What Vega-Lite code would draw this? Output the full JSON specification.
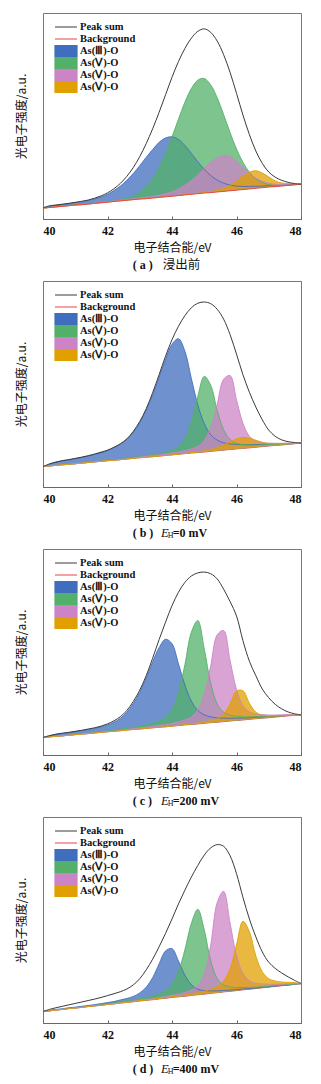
{
"padding": {"left": 14, "top": 12, "right": 5, "bottom": 5},
"background": "white",
"bounds": "flush",
"spacing": 62,
"resolve": {"scale": {"color": "independent"}, "legend": {"color": "independent"}},
"config": {
  "font": "Liberation Serif",
  "view": {"stroke": "#777", "strokeWidth": 1},
  "axis": {"grid": false, "domainColor": "#666", "tickColor": "#666", "labelFont": "Liberation Serif", "labelFontSize": 12, "labelFontWeight": "bold", "labelColor": "#111", "titleFont": "Noto Sans CJK SC", "titleFontSize": 12, "titleFontWeight": "normal", "titleColor": "#111"}
},
"datasets": {"xps": [
{"p":"a","x":40.0,"bg":5.3,"s":5.4,"c1":5.4,"c2":5.3,"c3":5.3,"c4":5.3},
{"p":"a","x":40.2,"bg":5.6,"s":6.4,"c1":6.2,"c2":5.6,"c3":5.6,"c4":5.6},
{"p":"a","x":40.4,"bg":5.9,"s":6.8,"c1":6.6,"c2":5.9,"c3":5.9,"c4":5.9},
{"p":"a","x":40.6,"bg":6.2,"s":7.2,"c1":7.0,"c2":6.2,"c3":6.2,"c4":6.2},
{"p":"a","x":40.8,"bg":6.5,"s":7.6,"c1":7.4,"c2":6.5,"c3":6.5,"c4":6.5},
{"p":"a","x":41.0,"bg":6.8,"s":8.1,"c1":7.9,"c2":6.8,"c3":6.8,"c4":6.8},
{"p":"a","x":41.2,"bg":7.0,"s":8.6,"c1":8.3,"c2":7.0,"c3":7.0,"c4":7.0},
{"p":"a","x":41.4,"bg":7.3,"s":9.2,"c1":8.9,"c2":7.3,"c3":7.3,"c4":7.3},
{"p":"a","x":41.6,"bg":7.6,"s":10.1,"c1":9.7,"c2":7.6,"c3":7.7,"c4":7.6},
{"p":"a","x":41.8,"bg":7.9,"s":11.2,"c1":10.7,"c2":7.9,"c3":8.1,"c4":7.9},
{"p":"a","x":42.0,"bg":8.2,"s":12.7,"c1":12.0,"c2":8.2,"c3":8.4,"c4":8.2},
{"p":"a","x":42.2,"bg":8.5,"s":14.7,"c1":13.8,"c2":8.7,"c3":8.7,"c4":8.5},
{"p":"a","x":42.4,"bg":8.8,"s":17.3,"c1":16.0,"c2":9.2,"c3":9.1,"c4":8.8},
{"p":"a","x":42.6,"bg":9.1,"s":20.7,"c1":18.8,"c2":10.0,"c3":9.4,"c4":9.1},
{"p":"a","x":42.8,"bg":9.4,"s":25.0,"c1":22.1,"c2":11.1,"c3":9.8,"c4":9.4},
{"p":"a","x":43.0,"bg":9.7,"s":30.3,"c1":25.9,"c2":12.9,"c3":10.2,"c4":9.7},
{"p":"a","x":43.2,"bg":9.9,"s":36.6,"c1":29.9,"c2":15.5,"c3":10.5,"c4":9.9},
{"p":"a","x":43.4,"bg":10.2,"s":43.8,"c1":33.7,"c2":19.5,"c3":11.0,"c4":10.2},
{"p":"a","x":43.6,"bg":10.5,"s":51.8,"c1":37.2,"c2":24.8,"c3":11.5,"c4":10.5},
{"p":"a","x":43.8,"bg":10.8,"s":60.3,"c1":39.3,"c2":31.7,"c3":12.3,"c4":10.8},
{"p":"a","x":44.0,"bg":11.1,"s":68.8,"c1":39.9,"c2":39.8,"c3":13.2,"c4":11.1},
{"p":"a","x":44.2,"bg":11.4,"s":76.4,"c1":38.6,"c2":48.4,"c3":14.6,"c4":11.4},
{"p":"a","x":44.4,"bg":11.7,"s":82.8,"c1":35.7,"c2":56.7,"c3":16.4,"c4":11.8},
{"p":"a","x":44.6,"bg":12.0,"s":87.8,"c1":31.8,"c2":63.3,"c3":18.7,"c4":12.2},
{"p":"a","x":44.8,"bg":12.3,"s":91.1,"c1":27.8,"c2":67.4,"c3":21.4,"c4":12.5},
{"p":"a","x":45.0,"bg":12.6,"s":92.3,"c1":24.1,"c2":68.2,"c3":24.5,"c4":12.9},
{"p":"a","x":45.2,"bg":12.8,"s":90.6,"c1":21.1,"c2":65.1,"c3":27.4,"c4":13.3},
{"p":"a","x":45.4,"bg":13.1,"s":86.4,"c1":18.9,"c2":58.9,"c3":29.7,"c4":13.9},
{"p":"a","x":45.6,"bg":13.4,"s":79.8,"c1":17.4,"c2":50.7,"c3":30.9,"c4":14.8},
{"p":"a","x":45.8,"bg":13.7,"s":71.2,"c1":16.5,"c2":42.0,"c3":30.3,"c4":16.3},
{"p":"a","x":46.0,"bg":14.0,"s":61.0,"c1":16.0,"c2":34.0,"c3":28.0,"c4":18.3},
{"p":"a","x":46.2,"bg":14.3,"s":50.5,"c1":15.8,"c2":27.5,"c3":25.0,"c4":20.7},
{"p":"a","x":46.4,"bg":14.6,"s":41.0,"c1":15.8,"c2":22.7,"c3":22.1,"c4":22.7},
{"p":"a","x":46.6,"bg":14.9,"s":33.0,"c1":15.9,"c2":19.5,"c3":19.8,"c4":23.4},
{"p":"a","x":46.8,"bg":15.2,"s":27.0,"c1":16.0,"c2":17.7,"c3":18.3,"c4":22.3},
{"p":"a","x":47.0,"bg":15.5,"s":22.8,"c1":16.2,"c2":16.7,"c3":17.4,"c4":20.4},
{"p":"a","x":47.2,"bg":15.7,"s":20.3,"c1":16.3,"c2":16.3,"c3":16.9,"c4":18.5},
{"p":"a","x":47.4,"bg":16.0,"s":18.8,"c1":16.5,"c2":16.2,"c3":16.8,"c4":17.5},
{"p":"a","x":47.6,"bg":16.3,"s":17.8,"c1":16.7,"c2":16.3,"c3":16.9,"c4":17.1},
{"p":"a","x":47.8,"bg":16.6,"s":17.2,"c1":16.8,"c2":16.6,"c3":17.0,"c4":17.0},
{"p":"a","x":48.0,"bg":16.9,"s":16.9,"c1":16.9,"c2":16.9,"c3":16.9,"c4":16.9},
{"p":"b","x":40.0,"bg":9.9,"s":9.9,"c1":9.9,"c2":9.9,"c3":9.9,"c4":9.9},
{"p":"b","x":40.2,"bg":10.2,"s":11.2,"c1":11.1,"c2":10.2,"c3":10.2,"c4":10.2},
{"p":"b","x":40.4,"bg":10.5,"s":12.1,"c1":12.0,"c2":10.5,"c3":10.5,"c4":10.5},
{"p":"b","x":40.6,"bg":10.8,"s":12.8,"c1":12.7,"c2":10.8,"c3":10.8,"c4":10.8},
{"p":"b","x":40.8,"bg":11.0,"s":13.3,"c1":13.1,"c2":11.0,"c3":11.0,"c4":11.0},
{"p":"b","x":41.0,"bg":11.3,"s":13.9,"c1":13.7,"c2":11.3,"c3":11.3,"c4":11.3},
{"p":"b","x":41.2,"bg":11.6,"s":14.5,"c1":14.3,"c2":11.6,"c3":11.6,"c4":11.6},
{"p":"b","x":41.4,"bg":11.9,"s":15.2,"c1":15.0,"c2":11.9,"c3":11.9,"c4":11.9},
{"p":"b","x":41.6,"bg":12.2,"s":16.0,"c1":15.8,"c2":12.2,"c3":12.2,"c4":12.2},
{"p":"b","x":41.8,"bg":12.5,"s":16.9,"c1":16.7,"c2":12.5,"c3":12.5,"c4":12.5},
{"p":"b","x":42.0,"bg":12.8,"s":17.9,"c1":17.7,"c2":12.8,"c3":12.8,"c4":12.8},
{"p":"b","x":42.2,"bg":13.0,"s":19.3,"c1":19.1,"c2":13.0,"c3":13.0,"c4":13.0},
{"p":"b","x":42.4,"bg":13.3,"s":21.0,"c1":20.8,"c2":13.3,"c3":13.3,"c4":13.3},
{"p":"b","x":42.6,"bg":13.6,"s":23.4,"c1":23.1,"c2":13.8,"c3":13.6,"c4":13.6},
{"p":"b","x":42.8,"bg":13.9,"s":27.0,"c1":26.7,"c2":14.3,"c3":14.1,"c4":13.9},
{"p":"b","x":43.0,"bg":14.2,"s":31.8,"c1":31.3,"c2":14.8,"c3":14.5,"c4":14.2},
{"p":"b","x":43.2,"bg":14.5,"s":38.0,"c1":37.3,"c2":15.3,"c3":14.9,"c4":14.5},
{"p":"b","x":43.4,"bg":14.7,"s":45.8,"c1":44.8,"c2":15.7,"c3":15.2,"c4":14.7},
{"p":"b","x":43.6,"bg":15.0,"s":54.5,"c1":53.3,"c2":16.3,"c3":15.6,"c4":15.0},
{"p":"b","x":43.8,"bg":15.3,"s":63.5,"c1":62.1,"c2":16.9,"c3":16.0,"c4":15.3},
{"p":"b","x":44.0,"bg":15.6,"s":71.5,"c1":69.3,"c2":17.9,"c3":16.5,"c4":15.6},
{"p":"b","x":44.2,"bg":15.9,"s":78.0,"c1":72.0,"c2":19.7,"c3":17.0,"c4":15.9},
{"p":"b","x":44.4,"bg":16.2,"s":83.2,"c1":65.9,"c2":23.7,"c3":17.6,"c4":16.3},
{"p":"b","x":44.6,"bg":16.5,"s":87.0,"c1":52.7,"c2":31.7,"c3":18.5,"c4":16.7},
{"p":"b","x":44.8,"bg":16.7,"s":89.2,"c1":39.9,"c2":44.0,"c3":19.7,"c4":17.0},
{"p":"b","x":45.0,"bg":17.0,"s":89.8,"c1":30.8,"c2":53.7,"c3":22.6,"c4":17.6},
{"p":"b","x":45.2,"bg":17.3,"s":89.0,"c1":25.4,"c2":49.4,"c3":28.9,"c4":18.2},
{"p":"b","x":45.4,"bg":17.6,"s":86.3,"c1":22.8,"c2":37.3,"c3":40.0,"c4":19.1},
{"p":"b","x":45.6,"bg":17.9,"s":81.5,"c1":21.5,"c2":27.8,"c3":52.3,"c4":20.3},
{"p":"b","x":45.8,"bg":18.2,"s":74.0,"c1":20.9,"c2":23.1,"c3":54.1,"c4":21.8},
{"p":"b","x":46.0,"bg":18.5,"s":64.5,"c1":20.7,"c2":21.2,"c3":42.4,"c4":23.3},
{"p":"b","x":46.2,"bg":18.7,"s":54.5,"c1":20.5,"c2":20.6,"c3":30.9,"c4":24.1},
{"p":"b","x":46.4,"bg":19.0,"s":46.0,"c1":20.5,"c2":20.3,"c3":24.6,"c4":23.7},
{"p":"b","x":46.6,"bg":19.3,"s":38.8,"c1":20.6,"c2":20.3,"c3":22.3,"c4":22.7},
{"p":"b","x":46.8,"bg":19.6,"s":32.6,"c1":20.7,"c2":20.4,"c3":21.5,"c4":21.7},
{"p":"b","x":47.0,"bg":19.9,"s":27.6,"c1":20.9,"c2":20.6,"c3":21.3,"c4":21.1},
{"p":"b","x":47.2,"bg":20.2,"s":24.6,"c1":21.0,"c2":20.7,"c3":21.2,"c4":20.9},
{"p":"b","x":47.4,"bg":20.4,"s":22.9,"c1":21.0,"c2":20.8,"c3":21.2,"c4":20.8},
{"p":"b","x":47.6,"bg":20.7,"s":22.0,"c1":21.1,"c2":21.0,"c3":21.3,"c4":21.0},
{"p":"b","x":47.8,"bg":21.0,"s":21.6,"c1":21.2,"c2":21.1,"c3":21.3,"c4":21.1},
{"p":"b","x":48.0,"bg":21.3,"s":21.3,"c1":21.3,"c2":21.3,"c3":21.3,"c4":21.3},
{"p":"c","x":40.0,"bg":8.5,"s":8.5,"c1":8.5,"c2":8.5,"c3":8.5,"c4":8.5},
{"p":"c","x":40.2,"bg":8.8,"s":9.4,"c1":9.3,"c2":8.8,"c3":8.8,"c4":8.8},
{"p":"c","x":40.4,"bg":9.1,"s":10.1,"c1":10.0,"c2":9.1,"c3":9.1,"c4":9.1},
{"p":"c","x":40.6,"bg":9.3,"s":10.6,"c1":10.4,"c2":9.3,"c3":9.3,"c4":9.3},
{"p":"c","x":40.8,"bg":9.6,"s":11.0,"c1":10.8,"c2":9.6,"c3":9.6,"c4":9.6},
{"p":"c","x":41.0,"bg":9.9,"s":11.5,"c1":11.3,"c2":9.9,"c3":9.9,"c4":9.9},
{"p":"c","x":41.2,"bg":10.2,"s":12.0,"c1":11.8,"c2":10.2,"c3":10.2,"c4":10.2},
{"p":"c","x":41.4,"bg":10.4,"s":12.6,"c1":12.3,"c2":10.4,"c3":10.4,"c4":10.4},
{"p":"c","x":41.6,"bg":10.7,"s":13.2,"c1":12.9,"c2":10.9,"c3":10.7,"c4":10.7},
{"p":"c","x":41.8,"bg":11.0,"s":14.0,"c1":13.6,"c2":11.3,"c3":11.0,"c4":11.0},
{"p":"c","x":42.0,"bg":11.3,"s":15.1,"c1":14.6,"c2":11.7,"c3":11.3,"c4":11.3},
{"p":"c","x":42.2,"bg":11.5,"s":16.6,"c1":15.9,"c2":12.0,"c3":11.5,"c4":11.5},
{"p":"c","x":42.4,"bg":11.8,"s":18.6,"c1":17.8,"c2":12.5,"c3":12.0,"c4":11.8},
{"p":"c","x":42.6,"bg":12.1,"s":21.6,"c1":20.7,"c2":13.0,"c3":12.4,"c4":12.1},
{"p":"c","x":42.8,"bg":12.4,"s":26.0,"c1":25.0,"c2":13.5,"c3":12.8,"c4":12.4},
{"p":"c","x":43.0,"bg":12.6,"s":31.5,"c1":30.4,"c2":13.9,"c3":13.1,"c4":12.6},
{"p":"c","x":43.2,"bg":12.9,"s":38.5,"c1":37.4,"c2":14.6,"c3":13.5,"c4":12.9},
{"p":"c","x":43.4,"bg":13.2,"s":47.0,"c1":45.2,"c2":15.4,"c3":13.9,"c4":13.2},
{"p":"c","x":43.6,"bg":13.5,"s":56.0,"c1":52.1,"c2":16.4,"c3":14.4,"c4":13.5},
{"p":"c","x":43.8,"bg":13.7,"s":64.5,"c1":56.2,"c2":18.2,"c3":14.8,"c4":13.7},
{"p":"c","x":44.0,"bg":14.0,"s":72.5,"c1":54.0,"c2":22.1,"c3":15.3,"c4":14.0},
{"p":"c","x":44.2,"bg":14.3,"s":79.0,"c1":44.3,"c2":30.1,"c3":16.1,"c4":14.4},
{"p":"c","x":44.4,"bg":14.6,"s":83.8,"c1":34.0,"c2":43.8,"c3":17.0,"c4":14.8},
{"p":"c","x":44.6,"bg":14.8,"s":86.9,"c1":26.2,"c2":59.6,"c3":18.5,"c4":15.1},
{"p":"c","x":44.8,"bg":15.1,"s":88.4,"c1":21.6,"c2":65.3,"c3":22.0,"c4":15.5},
{"p":"c","x":45.0,"bg":15.4,"s":88.8,"c1":19.5,"c2":51.5,"c3":29.7,"c4":16.0},
{"p":"c","x":45.2,"bg":15.7,"s":88.0,"c1":18.5,"c2":34.9,"c3":43.2,"c4":16.6},
{"p":"c","x":45.4,"bg":15.9,"s":85.5,"c1":18.0,"c2":24.8,"c3":58.3,"c4":17.5},
{"p":"c","x":45.6,"bg":16.2,"s":80.5,"c1":17.9,"c2":20.8,"c3":60.4,"c4":19.9},
{"p":"c","x":45.8,"bg":16.5,"s":74.5,"c1":17.8,"c2":19.3,"c3":45.9,"c4":24.8},
{"p":"c","x":46.0,"bg":16.8,"s":67.5,"c1":17.9,"c2":18.8,"c3":31.8,"c4":31.1},
{"p":"c","x":46.2,"bg":17.0,"s":55.5,"c1":17.9,"c2":18.5,"c3":23.9,"c4":31.2},
{"p":"c","x":46.4,"bg":17.3,"s":45.5,"c1":18.1,"c2":18.5,"c3":21.0,"c4":25.1},
{"p":"c","x":46.6,"bg":17.6,"s":38.5,"c1":18.3,"c2":18.6,"c3":19.9,"c4":20.8},
{"p":"c","x":46.8,"bg":17.9,"s":32.0,"c1":18.5,"c2":18.7,"c3":19.6,"c4":19.3},
{"p":"c","x":47.0,"bg":18.1,"s":27.8,"c1":18.6,"c2":18.8,"c3":19.4,"c4":18.9},
{"p":"c","x":47.2,"bg":18.4,"s":24.6,"c1":18.8,"c2":19.0,"c3":19.4,"c4":18.9},
{"p":"c","x":47.4,"bg":18.7,"s":22.4,"c1":19.0,"c2":19.1,"c3":19.5,"c4":19.1},
{"p":"c","x":47.6,"bg":19.0,"s":20.9,"c1":19.2,"c2":19.3,"c3":19.6,"c4":19.3},
{"p":"c","x":47.8,"bg":19.2,"s":20.0,"c1":19.3,"c2":19.3,"c3":19.5,"c4":19.3},
{"p":"c","x":48.0,"bg":19.5,"s":19.5,"c1":19.5,"c2":19.5,"c3":19.5,"c4":19.5},
{"p":"d","x":40.0,"bg":5.6,"s":5.6,"c1":5.6,"c2":5.6,"c3":5.6,"c4":5.6},
{"p":"d","x":40.2,"bg":5.9,"s":6.6,"c1":6.1,"c2":5.9,"c3":5.9,"c4":5.9},
{"p":"d","x":40.4,"bg":6.3,"s":7.4,"c1":6.6,"c2":6.3,"c3":6.3,"c4":6.3},
{"p":"d","x":40.6,"bg":6.6,"s":8.1,"c1":6.9,"c2":6.6,"c3":6.6,"c4":6.6},
{"p":"d","x":40.8,"bg":7.0,"s":8.8,"c1":7.4,"c2":7.0,"c3":7.0,"c4":7.0},
{"p":"d","x":41.0,"bg":7.3,"s":9.5,"c1":7.7,"c2":7.3,"c3":7.3,"c4":7.3},
{"p":"d","x":41.2,"bg":7.6,"s":10.2,"c1":8.1,"c2":7.6,"c3":7.6,"c4":7.6},
{"p":"d","x":41.4,"bg":8.0,"s":10.9,"c1":8.5,"c2":8.1,"c3":8.0,"c4":8.0},
{"p":"d","x":41.6,"bg":8.3,"s":11.6,"c1":8.9,"c2":8.5,"c3":8.3,"c4":8.3},
{"p":"d","x":41.8,"bg":8.6,"s":12.4,"c1":9.4,"c2":8.9,"c3":8.6,"c4":8.6},
{"p":"d","x":42.0,"bg":9.0,"s":13.3,"c1":9.9,"c2":9.4,"c3":9.0,"c4":9.0},
{"p":"d","x":42.2,"bg":9.3,"s":14.2,"c1":10.4,"c2":9.8,"c3":9.3,"c4":9.3},
{"p":"d","x":42.4,"bg":9.7,"s":15.2,"c1":11.2,"c2":10.4,"c3":9.8,"c4":9.7},
{"p":"d","x":42.6,"bg":10.0,"s":16.5,"c1":11.9,"c2":10.8,"c3":10.2,"c4":10.0},
{"p":"d","x":42.8,"bg":10.3,"s":18.5,"c1":12.9,"c2":11.2,"c3":10.6,"c4":10.4},
{"p":"d","x":43.0,"bg":10.7,"s":21.5,"c1":14.6,"c2":11.8,"c3":11.1,"c4":10.9},
{"p":"d","x":43.2,"bg":11.0,"s":25.8,"c1":17.4,"c2":12.5,"c3":11.4,"c4":11.2},
{"p":"d","x":43.4,"bg":11.3,"s":31.0,"c1":22.0,"c2":13.1,"c3":11.8,"c4":11.6},
{"p":"d","x":43.6,"bg":11.7,"s":37.0,"c1":28.7,"c2":14.1,"c3":12.3,"c4":12.0},
{"p":"d","x":43.8,"bg":12.0,"s":43.5,"c1":35.0,"c2":15.9,"c3":12.8,"c4":12.4},
{"p":"d","x":44.0,"bg":12.4,"s":50.5,"c1":36.1,"c2":19.0,"c3":13.4,"c4":12.8},
{"p":"d","x":44.2,"bg":12.7,"s":57.8,"c1":30.1,"c2":25.1,"c3":14.0,"c4":13.2},
{"p":"d","x":44.4,"bg":13.0,"s":64.5,"c1":23.2,"c2":35.5,"c3":14.8,"c4":13.6},
{"p":"d","x":44.6,"bg":13.4,"s":70.8,"c1":18.6,"c2":48.3,"c3":16.0,"c4":14.2},
{"p":"d","x":44.8,"bg":13.7,"s":76.5,"c1":16.4,"c2":55.2,"c3":18.1,"c4":14.7},
{"p":"d","x":45.0,"bg":14.0,"s":81.5,"c1":15.7,"c2":45.2,"c3":23.7,"c4":15.4},
{"p":"d","x":45.2,"bg":14.4,"s":85.0,"c1":15.6,"c2":30.3,"c3":37.7,"c4":16.4},
{"p":"d","x":45.4,"bg":14.7,"s":86.6,"c1":15.6,"c2":21.6,"c3":58.4,"c4":17.6},
{"p":"d","x":45.6,"bg":15.1,"s":85.8,"c1":15.8,"c2":18.5,"c3":63.9,"c4":20.4},
{"p":"d","x":45.8,"bg":15.4,"s":81.2,"c1":16.0,"c2":17.5,"c3":48.6,"c4":26.2},
{"p":"d","x":46.0,"bg":15.7,"s":72.5,"c1":16.2,"c2":17.2,"c3":32.7,"c4":37.9},
{"p":"d","x":46.2,"bg":16.1,"s":61.0,"c1":16.5,"c2":17.2,"c3":24.0,"c4":49.4},
{"p":"d","x":46.4,"bg":16.4,"s":50.5,"c1":16.7,"c2":17.3,"c3":20.5,"c4":44.3},
{"p":"d","x":46.6,"bg":16.7,"s":41.8,"c1":17.0,"c2":17.4,"c3":19.3,"c4":32.5},
{"p":"d","x":46.8,"bg":17.1,"s":34.5,"c1":17.3,"c2":17.7,"c3":19.0,"c4":24.9},
{"p":"d","x":47.0,"bg":17.4,"s":29.5,"c1":17.6,"c2":17.9,"c3":18.8,"c4":21.5},
{"p":"d","x":47.2,"bg":17.8,"s":26.5,"c1":17.9,"c2":18.2,"c3":18.9,"c4":20.4},
{"p":"d","x":47.4,"bg":18.1,"s":24.3,"c1":18.2,"c2":18.4,"c3":18.9,"c4":19.9},
{"p":"d","x":47.6,"bg":18.4,"s":22.4,"c1":18.4,"c2":18.6,"c3":19.0,"c4":19.7},
{"p":"d","x":47.8,"bg":18.8,"s":20.7,"c1":18.8,"c2":18.9,"c3":19.1,"c4":19.6},
{"p":"d","x":48.0,"bg":19.1,"s":19.2,"c1":19.1,"c2":19.1,"c3":19.1,"c4":19.1}
]},
"vconcat": [
{
 "width": 258, "height": 206,
 "layer": [
  {"data": {"name": "xps"}, "transform": [{"filter": "datum.p === 'a'"}, {"fold": ["c1","c2","c3","c4"], "as": ["k","v"]}],
   "mark": {"type": "area", "interpolate": "catmull-rom", "opacity": 0.75, "line": {"strokeWidth": 0.9}},
   "encoding": {
    "x": {"field": "x", "type": "quantitative", "scale": {"domain": [40,48], "nice": false, "zero": false}, "axis": {"title": "电子结合能/eV", "values": [40,42,44,46,48], "tickSize": -3, "labelPadding": 9, "titlePadding": 6}},
    "y": {"field": "v", "type": "quantitative", "stack": null, "scale": {"domain": [0,100], "nice": false, "zero": false}, "axis": {"title": "光电子强度/a.u.", "labels": false, "ticks": false, "domain": false, "titlePadding": 15}},
    "y2": {"field": "bg"},
    "color": {"field": "k", "type": "nominal", "scale": {"domain": ["s","b","c1","c2","c3","c4"], "range": ["#3a3a3a","#e8404a","#3f6ebf","#52b06a","#cc84c6","#e0a000"]},
     "legend": {"title": null, "orient": "none", "legendX": 11, "legendY": 8, "padding": 0, "rowPadding": 0, "clipHeight": 12, "symbolSize": 484, "symbolStrokeWidth": 1.2, "labelFont": "Liberation Serif", "labelFontSize": 10.5, "labelFontWeight": "bold", "labelColor": "#111", "labelOffset": 2,
      "labelExpr": "datum.value === 's' ? 'Peak sum' : datum.value === 'b' ? 'Background' : datum.value === 'c1' ? 'As(Ⅲ)-O' : 'As(Ⅴ)-O'",
      "encode": {"symbols": {"update": {
        "shape": {"signal": "datum.value === 's' || datum.value === 'b' ? 'stroke' : 'M-1,-0.5H1V0.5H-1Z'"},
        "fill": {"signal": "datum.value === 'c1' ? '#6f92cf' : datum.value === 'c2' ? '#7dc48f' : datum.value === 'c3' ? '#d9a3d4' : datum.value === 'c4' ? '#e8b83a' : 'transparent'"},
        "stroke": {"signal": "datum.value === 's' ? '#3a3a3a' : datum.value === 'b' ? '#e8404a' : 'transparent'"},
        "opacity": {"value": 1}}}}}}
   }},
  {"data": {"name": "xps"}, "transform": [{"filter": "datum.p === 'a'"}],
   "mark": {"type": "line", "interpolate": "catmull-rom", "strokeWidth": 0.9},
   "encoding": {"x": {"field": "x", "type": "quantitative", "scale": {"domain": [40,48], "nice": false, "zero": false}},
    "y": {"field": "bg", "type": "quantitative", "scale": {"domain": [0,100], "nice": false, "zero": false}},
    "color": {"datum": "b", "type": "nominal", "scale": {"domain": ["s","b","c1","c2","c3","c4"], "range": ["#3a3a3a","#e8404a","#3f6ebf","#52b06a","#cc84c6","#e0a000"]}}}},
  {"data": {"name": "xps"}, "transform": [{"filter": "datum.p === 'a'"}],
   "mark": {"type": "line", "interpolate": "catmull-rom", "strokeWidth": 1},
   "encoding": {"x": {"field": "x", "type": "quantitative", "scale": {"domain": [40,48], "nice": false, "zero": false}},
    "y": {"field": "s", "type": "quantitative", "scale": {"domain": [0,100], "nice": false, "zero": false}},
    "color": {"datum": "s", "type": "nominal", "scale": {"domain": ["s","b","c1","c2","c3","c4"], "range": ["#3a3a3a","#e8404a","#3f6ebf","#52b06a","#cc84c6","#e0a000"]}}}},
  {"data": {"values": [{}]}, "mark": {"type": "text", "align": "left", "baseline": "middle", "font": "Liberation Serif", "fontSize": 12, "fontWeight": "bold", "color": "#111"},
   "encoding": {"x": {"datum": 42.78}, "y": {"datum": -22.3}, "text": {"value": "(  a  )"}}},
  {"data": {"values": [{}]}, "mark": {"type": "text", "align": "left", "baseline": "middle", "font": "Noto Sans CJK SC", "fontSize": 12.5, "color": "#111"},
   "encoding": {"x": {"datum": 43.71}, "y": {"datum": -22.3}, "text": {"value": "浸出前"}}}
 ]
},
{
 "width": 258, "height": 206,
 "layer": [
  {"data": {"name": "xps"}, "transform": [{"filter": "datum.p === 'b'"}],
   "mark": {"type": "line", "interpolate": "catmull-rom", "strokeWidth": 0.9},
   "encoding": {"x": {"field": "x", "type": "quantitative", "scale": {"domain": [40,48], "nice": false, "zero": false}},
    "y": {"field": "bg", "type": "quantitative", "scale": {"domain": [0,100], "nice": false, "zero": false}},
    "color": {"datum": "b", "type": "nominal", "scale": {"domain": ["s","b","c1","c2","c3","c4"], "range": ["#3a3a3a","#e8404a","#3f6ebf","#52b06a","#cc84c6","#e0a000"]}}}},
  {"data": {"name": "xps"}, "transform": [{"filter": "datum.p === 'b'"}, {"fold": ["c1","c2","c3","c4"], "as": ["k","v"]}],
   "mark": {"type": "area", "interpolate": "catmull-rom", "opacity": 0.75, "line": {"strokeWidth": 0.9}},
   "encoding": {
    "x": {"field": "x", "type": "quantitative", "scale": {"domain": [40,48], "nice": false, "zero": false}, "axis": {"title": "电子结合能/eV", "values": [40,42,44,46,48], "tickSize": -3, "labelPadding": 9, "titlePadding": 6}},
    "y": {"field": "v", "type": "quantitative", "stack": null, "scale": {"domain": [0,100], "nice": false, "zero": false}, "axis": {"title": "光电子强度/a.u.", "labels": false, "ticks": false, "domain": false, "titlePadding": 15}},
    "y2": {"field": "bg"},
    "color": {"field": "k", "type": "nominal", "scale": {"domain": ["s","b","c1","c2","c3","c4"], "range": ["#3a3a3a","#e8404a","#3f6ebf","#52b06a","#cc84c6","#e0a000"]},
     "legend": {"title": null, "orient": "none", "legendX": 11, "legendY": 8, "padding": 0, "rowPadding": 0, "clipHeight": 12, "symbolSize": 484, "symbolStrokeWidth": 1.2, "labelFont": "Liberation Serif", "labelFontSize": 10.5, "labelFontWeight": "bold", "labelColor": "#111", "labelOffset": 2,
      "labelExpr": "datum.value === 's' ? 'Peak sum' : datum.value === 'b' ? 'Background' : datum.value === 'c1' ? 'As(Ⅲ)-O' : 'As(Ⅴ)-O'",
      "encode": {"symbols": {"update": {
        "shape": {"signal": "datum.value === 's' || datum.value === 'b' ? 'stroke' : 'M-1,-0.5H1V0.5H-1Z'"},
        "fill": {"signal": "datum.value === 'c1' ? '#6f92cf' : datum.value === 'c2' ? '#7dc48f' : datum.value === 'c3' ? '#d9a3d4' : datum.value === 'c4' ? '#e8b83a' : 'transparent'"},
        "stroke": {"signal": "datum.value === 's' ? '#3a3a3a' : datum.value === 'b' ? '#e8404a' : 'transparent'"},
        "opacity": {"value": 1}}}}}}
   }},
  {"data": {"name": "xps"}, "transform": [{"filter": "datum.p === 'b'"}],
   "mark": {"type": "line", "interpolate": "catmull-rom", "strokeWidth": 1},
   "encoding": {"x": {"field": "x", "type": "quantitative", "scale": {"domain": [40,48], "nice": false, "zero": false}},
    "y": {"field": "s", "type": "quantitative", "scale": {"domain": [0,100], "nice": false, "zero": false}},
    "color": {"datum": "s", "type": "nominal", "scale": {"domain": ["s","b","c1","c2","c3","c4"], "range": ["#3a3a3a","#e8404a","#3f6ebf","#52b06a","#cc84c6","#e0a000"]}}}},
  {"data": {"values": [{}]}, "mark": {"type": "text", "align": "left", "baseline": "middle", "font": "Liberation Serif", "fontSize": 12, "fontWeight": "bold", "color": "#111"},
   "encoding": {"x": {"datum": 42.78}, "y": {"datum": -22.3}, "text": {"value": "(  b  )"}}},
  {"data": {"values": [{}]}, "mark": {"type": "text", "align": "left", "baseline": "middle", "font": "Liberation Serif", "fontSize": 12.5, "fontStyle": "italic", "color": "#111"},
   "encoding": {"x": {"datum": 43.66}, "y": {"datum": -22.3}, "text": {"value": "E"}}},
  {"data": {"values": [{}]}, "mark": {"type": "text", "align": "left", "baseline": "middle", "font": "Liberation Serif", "fontSize": 8, "color": "#111"},
   "encoding": {"x": {"datum": 43.87}, "y": {"datum": -24.0}, "text": {"value": "H"}}},
  {"data": {"values": [{}]}, "mark": {"type": "text", "align": "left", "baseline": "middle", "font": "Liberation Serif", "fontSize": 12, "fontWeight": "bold", "color": "#111"},
   "encoding": {"x": {"datum": 44.02}, "y": {"datum": -22.3}, "text": {"value": "=0 mV"}}}
 ]
},
{
 "width": 258, "height": 206,
 "layer": [
  {"data": {"name": "xps"}, "transform": [{"filter": "datum.p === 'c'"}],
   "mark": {"type": "line", "interpolate": "catmull-rom", "strokeWidth": 0.9},
   "encoding": {"x": {"field": "x", "type": "quantitative", "scale": {"domain": [40,48], "nice": false, "zero": false}},
    "y": {"field": "bg", "type": "quantitative", "scale": {"domain": [0,100], "nice": false, "zero": false}},
    "color": {"datum": "b", "type": "nominal", "scale": {"domain": ["s","b","c1","c2","c3","c4"], "range": ["#3a3a3a","#e8404a","#3f6ebf","#52b06a","#cc84c6","#e0a000"]}}}},
  {"data": {"name": "xps"}, "transform": [{"filter": "datum.p === 'c'"}, {"fold": ["c1","c2","c3","c4"], "as": ["k","v"]}],
   "mark": {"type": "area", "interpolate": "catmull-rom", "opacity": 0.75, "line": {"strokeWidth": 0.9}},
   "encoding": {
    "x": {"field": "x", "type": "quantitative", "scale": {"domain": [40,48], "nice": false, "zero": false}, "axis": {"title": "电子结合能/eV", "values": [40,42,44,46,48], "tickSize": -3, "labelPadding": 9, "titlePadding": 6}},
    "y": {"field": "v", "type": "quantitative", "stack": null, "scale": {"domain": [0,100], "nice": false, "zero": false}, "axis": {"title": "光电子强度/a.u.", "labels": false, "ticks": false, "domain": false, "titlePadding": 15}},
    "y2": {"field": "bg"},
    "color": {"field": "k", "type": "nominal", "scale": {"domain": ["s","b","c1","c2","c3","c4"], "range": ["#3a3a3a","#e8404a","#3f6ebf","#52b06a","#cc84c6","#e0a000"]},
     "legend": {"title": null, "orient": "none", "legendX": 11, "legendY": 8, "padding": 0, "rowPadding": 0, "clipHeight": 12, "symbolSize": 484, "symbolStrokeWidth": 1.2, "labelFont": "Liberation Serif", "labelFontSize": 10.5, "labelFontWeight": "bold", "labelColor": "#111", "labelOffset": 2,
      "labelExpr": "datum.value === 's' ? 'Peak sum' : datum.value === 'b' ? 'Background' : datum.value === 'c1' ? 'As(Ⅲ)-O' : 'As(Ⅴ)-O'",
      "encode": {"symbols": {"update": {
        "shape": {"signal": "datum.value === 's' || datum.value === 'b' ? 'stroke' : 'M-1,-0.5H1V0.5H-1Z'"},
        "fill": {"signal": "datum.value === 'c1' ? '#6f92cf' : datum.value === 'c2' ? '#7dc48f' : datum.value === 'c3' ? '#d9a3d4' : datum.value === 'c4' ? '#e8b83a' : 'transparent'"},
        "stroke": {"signal": "datum.value === 's' ? '#3a3a3a' : datum.value === 'b' ? '#e8404a' : 'transparent'"},
        "opacity": {"value": 1}}}}}}
   }},
  {"data": {"name": "xps"}, "transform": [{"filter": "datum.p === 'c'"}],
   "mark": {"type": "line", "interpolate": "catmull-rom", "strokeWidth": 1},
   "encoding": {"x": {"field": "x", "type": "quantitative", "scale": {"domain": [40,48], "nice": false, "zero": false}},
    "y": {"field": "s", "type": "quantitative", "scale": {"domain": [0,100], "nice": false, "zero": false}},
    "color": {"datum": "s", "type": "nominal", "scale": {"domain": ["s","b","c1","c2","c3","c4"], "range": ["#3a3a3a","#e8404a","#3f6ebf","#52b06a","#cc84c6","#e0a000"]}}}},
  {"data": {"values": [{}]}, "mark": {"type": "text", "align": "left", "baseline": "middle", "font": "Liberation Serif", "fontSize": 12, "fontWeight": "bold", "color": "#111"},
   "encoding": {"x": {"datum": 42.78}, "y": {"datum": -22.3}, "text": {"value": "(  c  )"}}},
  {"data": {"values": [{}]}, "mark": {"type": "text", "align": "left", "baseline": "middle", "font": "Liberation Serif", "fontSize": 12.5, "fontStyle": "italic", "color": "#111"},
   "encoding": {"x": {"datum": 43.66}, "y": {"datum": -22.3}, "text": {"value": "E"}}},
  {"data": {"values": [{}]}, "mark": {"type": "text", "align": "left", "baseline": "middle", "font": "Liberation Serif", "fontSize": 8, "color": "#111"},
   "encoding": {"x": {"datum": 43.87}, "y": {"datum": -24.0}, "text": {"value": "H"}}},
  {"data": {"values": [{}]}, "mark": {"type": "text", "align": "left", "baseline": "middle", "font": "Liberation Serif", "fontSize": 12, "fontWeight": "bold", "color": "#111"},
   "encoding": {"x": {"datum": 44.02}, "y": {"datum": -22.3}, "text": {"value": "=200 mV"}}}
 ]
},
{
 "width": 258, "height": 206,
 "layer": [
  {"data": {"name": "xps"}, "transform": [{"filter": "datum.p === 'd'"}],
   "mark": {"type": "line", "interpolate": "catmull-rom", "strokeWidth": 0.9},
   "encoding": {"x": {"field": "x", "type": "quantitative", "scale": {"domain": [40,48], "nice": false, "zero": false}},
    "y": {"field": "bg", "type": "quantitative", "scale": {"domain": [0,100], "nice": false, "zero": false}},
    "color": {"datum": "b", "type": "nominal", "scale": {"domain": ["s","b","c1","c2","c3","c4"], "range": ["#3a3a3a","#e8404a","#3f6ebf","#52b06a","#cc84c6","#e0a000"]}}}},
  {"data": {"name": "xps"}, "transform": [{"filter": "datum.p === 'd'"}, {"fold": ["c1","c2","c3","c4"], "as": ["k","v"]}],
   "mark": {"type": "area", "interpolate": "catmull-rom", "opacity": 0.75, "line": {"strokeWidth": 0.9}},
   "encoding": {
    "x": {"field": "x", "type": "quantitative", "scale": {"domain": [40,48], "nice": false, "zero": false}, "axis": {"title": "电子结合能/eV", "values": [40,42,44,46,48], "tickSize": -3, "labelPadding": 9, "titlePadding": 6}},
    "y": {"field": "v", "type": "quantitative", "stack": null, "scale": {"domain": [0,100], "nice": false, "zero": false}, "axis": {"title": "光电子强度/a.u.", "labels": false, "ticks": false, "domain": false, "titlePadding": 15}},
    "y2": {"field": "bg"},
    "color": {"field": "k", "type": "nominal", "scale": {"domain": ["s","b","c1","c2","c3","c4"], "range": ["#3a3a3a","#e8404a","#3f6ebf","#52b06a","#cc84c6","#e0a000"]},
     "legend": {"title": null, "orient": "none", "legendX": 11, "legendY": 8, "padding": 0, "rowPadding": 0, "clipHeight": 12, "symbolSize": 484, "symbolStrokeWidth": 1.2, "labelFont": "Liberation Serif", "labelFontSize": 10.5, "labelFontWeight": "bold", "labelColor": "#111", "labelOffset": 2,
      "labelExpr": "datum.value === 's' ? 'Peak sum' : datum.value === 'b' ? 'Background' : datum.value === 'c1' ? 'As(Ⅲ)-O' : 'As(Ⅴ)-O'",
      "encode": {"symbols": {"update": {
        "shape": {"signal": "datum.value === 's' || datum.value === 'b' ? 'stroke' : 'M-1,-0.5H1V0.5H-1Z'"},
        "fill": {"signal": "datum.value === 'c1' ? '#6f92cf' : datum.value === 'c2' ? '#7dc48f' : datum.value === 'c3' ? '#d9a3d4' : datum.value === 'c4' ? '#e8b83a' : 'transparent'"},
        "stroke": {"signal": "datum.value === 's' ? '#3a3a3a' : datum.value === 'b' ? '#e8404a' : 'transparent'"},
        "opacity": {"value": 1}}}}}}
   }},
  {"data": {"name": "xps"}, "transform": [{"filter": "datum.p === 'd'"}],
   "mark": {"type": "line", "interpolate": "catmull-rom", "strokeWidth": 1},
   "encoding": {"x": {"field": "x", "type": "quantitative", "scale": {"domain": [40,48], "nice": false, "zero": false}},
    "y": {"field": "s", "type": "quantitative", "scale": {"domain": [0,100], "nice": false, "zero": false}},
    "color": {"datum": "s", "type": "nominal", "scale": {"domain": ["s","b","c1","c2","c3","c4"], "range": ["#3a3a3a","#e8404a","#3f6ebf","#52b06a","#cc84c6","#e0a000"]}}}},
  {"data": {"values": [{}]}, "mark": {"type": "text", "align": "left", "baseline": "middle", "font": "Liberation Serif", "fontSize": 12, "fontWeight": "bold", "color": "#111"},
   "encoding": {"x": {"datum": 42.78}, "y": {"datum": -22.3}, "text": {"value": "(  d  )"}}},
  {"data": {"values": [{}]}, "mark": {"type": "text", "align": "left", "baseline": "middle", "font": "Liberation Serif", "fontSize": 12.5, "fontStyle": "italic", "color": "#111"},
   "encoding": {"x": {"datum": 43.66}, "y": {"datum": -22.3}, "text": {"value": "E"}}},
  {"data": {"values": [{}]}, "mark": {"type": "text", "align": "left", "baseline": "middle", "font": "Liberation Serif", "fontSize": 8, "color": "#111"},
   "encoding": {"x": {"datum": 43.87}, "y": {"datum": -24.0}, "text": {"value": "H"}}},
  {"data": {"values": [{}]}, "mark": {"type": "text", "align": "left", "baseline": "middle", "font": "Liberation Serif", "fontSize": 12, "fontWeight": "bold", "color": "#111"},
   "encoding": {"x": {"datum": 44.02}, "y": {"datum": -22.3}, "text": {"value": "=400 mV"}}}
 ]
}
]
}
